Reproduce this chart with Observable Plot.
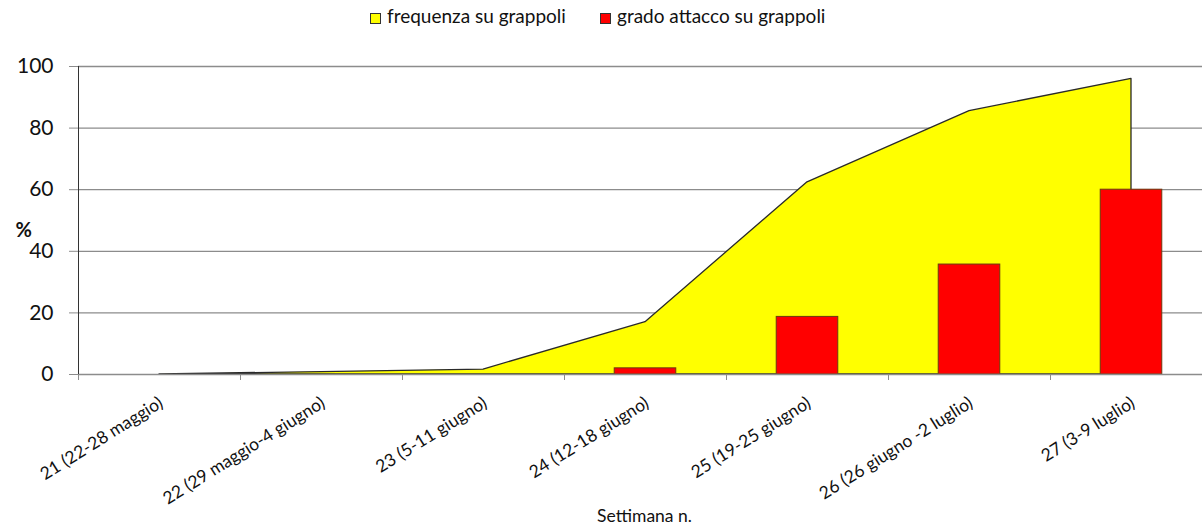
<!DOCTYPE html>
<html><head><meta charset="utf-8">
<script src="https://cdn.jsdelivr.net/npm/d3@7"></script>
<script src="https://cdn.jsdelivr.net/npm/@observablehq/plot@0.6"></script>
<style>
body{margin:0;background:#fff;font-family:Lato, sans-serif;color:#111;}
#wrap{position:relative;width:1202px;height:532px;overflow:hidden;}
#legend{position:relative;height:34px;}
.sw{position:absolute;top:13px;width:9px;height:9px;border:1px solid #333;}
.lt{position:absolute;top:5px;font-size:19px;line-height:22px;white-space:nowrap;}
</style></head>
<body><div id="wrap">
<div id="legend">
  <span class="sw" style="left:370px;background:#ffff00"></span><span class="lt" style="left:387px">frequenza su grappoli</span>
  <span class="sw" style="left:600px;background:#ff0000"></span><span class="lt" style="left:617px">grado attacco su grappoli</span>
</div>
<div id="chart"></div>
</div>
<script>
const weeks = ["21 (22-28 maggio)", "22 (29 maggio-4 giugno)", "23 (5-11 giugno)", "24 (12-18 giugno)", "25 (19-25 giugno)", "26 (26 giugno -2 luglio)", "27 (3-9 luglio)"];
const frequenza = [0, 0.8, 1.6, 17.0, 62.4, 85.5, 96.0];
const grado = [0, 0, 0, 2.0, 18.7, 35.7, 60.0];
const yTicks = [0, 20, 40, 60, 80, 100];

const idx = weeks.map((_, i) => i);
const freqData = idx.map(i => ({i, v: frequenza[i]}));
const barData = idx.filter(i => grado[i] > 0).map(i => ({i, v: grado[i]}));
const boundaries = idx.map(i => i - 0.5);
const barHalf = 0.19;

const chart = Plot.plot({
  width: 1202, height: 498,
  marginTop: 32, marginBottom: 158, marginLeft: 78, marginRight: 0,
  x: {domain: [-0.5, weeks.length - 0.5], range: [78, 1212], axis: null},
  y: {domain: [0, 100], axis: null},
  style: {fontFamily: "Lato, sans-serif", background: "white", color: "#111", overflow: "hidden"},
  marks: [
    Plot.ruleY(yTicks.filter(t => t > 0), {stroke: "#8c8c8c", strokeWidth: 1.3}),
    Plot.areaY(freqData, {x: "i", y: "v", fill: "#ffff00", stroke: "#2a2a2a", strokeWidth: 1.3}),
    Plot.rectY(barData, {x1: d => d.i - barHalf, x2: d => d.i + barHalf, y: "v", fill: "#ff0000", stroke: "#6b3a10", strokeWidth: 1}),
    Plot.ruleY([0], {stroke: "#8c8c8c", strokeWidth: 1.3}),
    Plot.axisY({ticks: yTicks, tickSize: 9, tickPadding: 16, fontSize: 21, stroke: "#8c8c8c", label: null}),
    Plot.axisX({ticks: boundaries, tickSize: 6, tickFormat: () => "", stroke: "#8c8c8c", label: null}),
    Plot.ruleX([-0.5], {y1: 0, y2: 100, stroke: "#333"}),
    Plot.text(weeks, {x: (d, i) => i, y: 0, text: d => d, rotate: -32, textAnchor: "end", lineAnchor: "top", dx: -2, dy: 21, fontSize: 17.5}),
    Plot.text(["%"], {frameAnchor: "left", dx: -63, dy: 10, fontWeight: "bold", fontSize: 20}),
    Plot.text(["Settimana n."], {frameAnchor: "bottom", dx: 4, dy: 147, fontSize: 17.5})
  ]
});
document.getElementById("chart").append(chart);
</script>
</body></html>
